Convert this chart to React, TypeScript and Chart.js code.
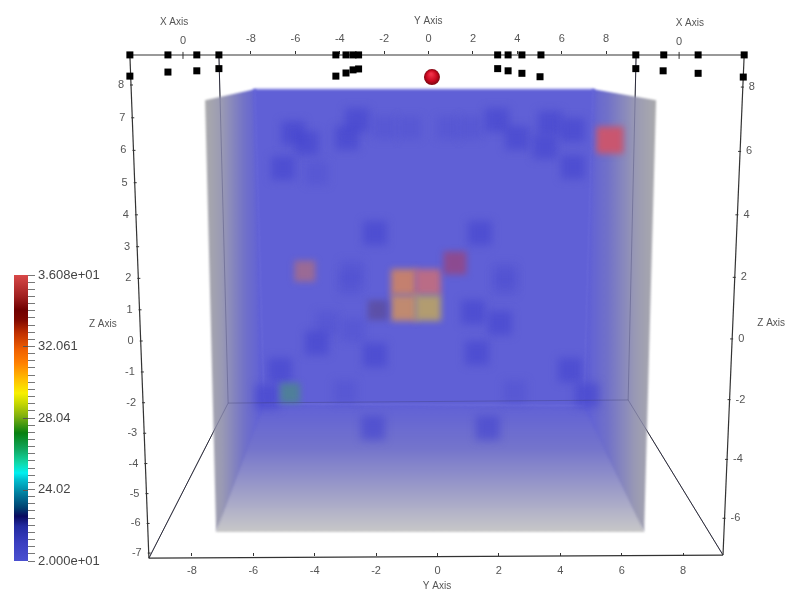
import React, { useEffect, useRef } from "react";
import { Chart, LinearScale, registerables } from "chart.js";

class PerspectiveScale extends LinearScale {
  static id = "perspective";
  static defaults = (LinearScale as any).defaults;
  getPixelForValue(v: number) {
    const a = (this.options as any).bow || 0;
    return super.getPixelForValue(v * (1 + a * v));
  }
}
// Registered ahead of the built-in plugins so that its filter also covers the filler's drawing.
const softDatasets = {
  id: "softDatasets",
  beforeDatasetDraw(chart: any, args: any) {
    const b = chart.data.datasets[args.index].blur;
    if (b) { chart.ctx.save(); chart.ctx.filter = `blur(${b}px)`; }
  },
  afterDatasetDraw(chart: any, args: any) {
    if (chart.data.datasets[args.index].blur) chart.ctx.restore();
  },
};
Chart.register(softDatasets as any, ...registerables, PerspectiveScale as any);

const FONT = "'Liberation Sans', Arial, sans-serif";

// Axis ticks
const yAxisTicks = [-8, -6, -4, -2, 0, 2, 4, 6, 8];
const zLeftTicks = [8, 7, 6, 5, 4, 3, 2, 1, 0, -1, -2, -3, -4, -5, -6, -7];
const zRightTicks = [8, 6, 4, 2, 0, -2, -4, -6];

// Marker squares on the top rail and just beneath it
const railX = [-10.02, -8.78, -7.84, -7.12, -3.31, -2.98, -2.75, -2.57, 1.96, 2.3, 2.75, 3.37, 6.46, 7.37, 8.49, 9.99];
const railY = [9.17, 9.17, 9.17, 9.17, 9.17, 9.17, 9.17, 9.17, 9.17, 9.17, 9.17, 9.17, 9.17, 9.17, 9.17, 9.17];
const lowerX = [-10.02, -8.78, -7.84, -7.12, -3.31, -2.98, -2.75, -2.57, 1.96, 2.3, 2.75, 3.34, 6.46, 7.35, 8.49, 9.96];
const lowerY = [8.49, 8.62, 8.66, 8.73, 8.49, 8.59, 8.69, 8.72, 8.73, 8.66, 8.58, 8.47, 8.73, 8.66, 8.58, 8.46];
const sphereX = [-0.18];
const sphereY = [8.46];

// Volume blobs
const deepX = [-4.71, -4.25, -5.03, -2.95, -2.62, 1.94, 2.59, 3.66, 3.5, 4.41, 4.41, -2.04, 1.38, 1.16, -3.93, -2.04, 1.29, 2.04, -5.13, 4.32, -5.55, 4.87, -2.1, 1.64];
const deepY = [6.67, 6.35, 5.54, 6.51, 7.08, 7.08, 6.51, 6.99, 6.22, 6.76, 5.58, 3.46, 3.46, 0.93, -0.06, -0.45, -0.38, 0.58, -0.93, -0.93, -1.79, -1.73, -2.79, -2.79];
const faintX = [-1.71, -0.9, 0.34, 1.06, -3.93, -2.85, -2.79, 2.2, 2.2, -3.6, -2.75, -3.01, 2.52];
const faintY = [6.83, 6.83, 6.83, 6.83, 5.38, 1.86, 2.21, 1.86, 2.12, 0.58, 0.35, -1.63, -1.63];
const hotX = [-1.09, -0.31, -1.09, -0.31, 5.62, 0.57, -4.32, -1.94, -4.8];
const hotY = [1.89, 1.89, 1.06, 1.06, 6.44, 2.5, 2.24, 0.99, -1.67];
const hotColors = ["#c4806f", "#ba6c86", "#c08a70", "#b29c70", "#c9566f", "#8c4a90", "#9a6a95", "#5c50a8", "#4f7f9a"];
const hotSides = [26, 26, 26, 26, 27, 23, 21, 20, 20];

// Volume faces [x, y] in plot units
const backFace = [[-6, 8.08], [5.12, 8.08], [4.82, -2.12], [-5.7, -2.06]];
const leftWall = [[-7.57, 7.72], [-5.91, 8.08], [-5.62, -1.99], [-7.21, -6.12]];
const rightWall = [[5.03, 8.08], [7.12, 7.72], [6.73, -6.12], [4.74, -2.05]];
const floorFace = [[-5.85, -1.99], [4.97, -2.05], [6.4, -5], [6.73, -6.12], [-7.21, -6.12], [-6.95, -5]];

// Box edges
const leftEdge = [[-10.02, 9.17], [-9.4, -6.96]];
const rightEdge = [[9.99, 9.17], [9.3, -6.86]];
const topEdge = [[-10.02, 9.17], [9.99, 9.17]];
const bottomEdge = [[-9.4, -6.96], [9.3, -6.86]];
const innerEdges = [
  [[-6.82, -1.99], [6.21, -1.89]],
  [[-9.4, -6.96], [-6.82, -1.99]],
  [[9.3, -6.86], [6.21, -1.89]],
  [[-7.12, 9.17], [-6.82, -1.99]],
  [[6.47, 9.17], [6.21, -1.89]],
];

// Free axis captions
const captions = [
  { text: "X Axis", x: -8.58, y: 10.23 },
  { text: "0", x: -8.29, y: 9.62 },
  { text: "Y Axis", x: -0.3, y: 10.25 },
  { text: "X Axis", x: 8.22, y: 10.2 },
  { text: "0", x: 7.87, y: 9.6 },
  { text: "Z Axis", x: -10.9, y: 0.54 },
  { text: "Z Axis", x: 10.87, y: 0.57 },
];

// Colour bar
const barMin = 20;
const barMax = 36.08;
const barMajor = [20, 24.02, 28.04, 32.061, 36.08];
const barLabels = ["2.000e+01", "24.02", "28.04", "32.061", "3.608e+01"];
const barStopValues = [20, 21.03, 21.96, 22.52, 22.99, 23.83, 24.58, 24.95, 25.52, 26.27, 27.2, 28.14, 28.88, 29.44, 30.19, 31.13, 31.87, 32.82, 33.56, 34.12, 34.86, 36.08];
const barStopColors = ["#4a50d0", "#3a3ec0", "#222aa0", "#0a0a60", "#004070", "#0080a0", "#00c0d0", "#00f0f0", "#10d8a8", "#10a860", "#088010", "#80b010", "#c8d800", "#f8f000", "#ffc000", "#ff8000", "#f06000", "#c03000", "#800800", "#700000", "#a02020", "#d84848"];

const pts = (xs: number[], ys: number[]) => xs.map((x, i) => ({ x, y: ys[i] }));
const poly = (p: number[][]) => p.map(([x, y]) => ({ x, y }));
const side2r = (s: number) => s / Math.SQRT2;

function MainChart() {
  const ref = useRef<HTMLCanvasElement>(null);
  useEffect(() => {
    const hGrad = (from: number, to: number) => (c: any) => {
      const s = c.chart.scales.x;
      if (!s || !c.chart.chartArea) return "#6060d6";
      const g = c.chart.ctx.createLinearGradient(s.getPixelForValue(from), 0, s.getPixelForValue(to), 0);
      g.addColorStop(0, "#aaaaac");
      g.addColorStop(0.3, "#9a9ab4");
      g.addColorStop(0.7, "#7272c8");
      g.addColorStop(1, "#6060d6");
      return g;
    };
    const vGrad = (c: any) => {
      const s = c.chart.scales.y;
      if (!s || !c.chart.chartArea) return "#6060d6";
      const g = c.chart.ctx.createLinearGradient(0, s.getPixelForValue(-1.99), 0, s.getPixelForValue(-6.12));
      g.addColorStop(0, "#6060d6");
      g.addColorStop(0.35, "#7474cc");
      g.addColorStop(0.7, "#a0a0c8");
      g.addColorStop(1, "#c8c8c8");
      return g;
    };
    const face = (p: number[][], bg: any, order: number, blur: number) => ({
      data: poly(p), showLine: true, fill: "shape", backgroundColor: bg, borderWidth: 0, pointRadius: 0, order, blur,
    });
    const edge = (p: number[][], color: string, width: number, order: number) => ({
      data: poly(p), showLine: true, fill: false, borderColor: color, borderWidth: width, pointRadius: 0, order, clip: false,
    });
    const squares = (d: any[], color: any, side: any, order: number, blur = 0) => ({
      data: d, showLine: false, pointStyle: "rect", backgroundColor: color, borderWidth: 0,
      pointRadius: Array.isArray(side) ? side.map(side2r) : side2r(side), pointHoverRadius: 0, order, clip: false, blur,
    });

    const axisExtras = {
      id: "axisExtras",
      afterDatasetsDraw(chart: any) {
        const { ctx, scales } = chart;
        ctx.save();
        ctx.fillStyle = "#555";
        ctx.strokeStyle = "#333";
        ctx.lineWidth = 1;
        ctx.textBaseline = "middle";
        ctx.font = `11px ${FONT}`;
        const along = (e: number[][], py: number) => {
          const x0 = scales.x.getPixelForValue(e[0][0]);
          const x1 = scales.x.getPixelForValue(e[1][0]);
          const y0 = scales.y.getPixelForValue(e[0][1]);
          const y1 = scales.y.getPixelForValue(e[1][1]);
          return x0 + ((py - y0) / (y1 - y0)) * (x1 - x0);
        };
        ctx.textAlign = "right";
        scales.zl.ticks.forEach((t: any) => {
          const py = scales.zl.getPixelForValue(t.value);
          const ax = along(leftEdge, py);
          ctx.fillText(String(t.value), ax - 7, py);
          ctx.beginPath(); ctx.moveTo(ax - 1, py); ctx.lineTo(ax + 2, py); ctx.stroke();
        });
        ctx.textAlign = "left";
        scales.zr.ticks.forEach((t: any) => {
          const py = scales.zr.getPixelForValue(t.value);
          const ax = along(rightEdge, py);
          ctx.fillText(String(t.value), ax + 6, py);
          ctx.beginPath(); ctx.moveTo(ax - 2, py); ctx.lineTo(ax + 1, py); ctx.stroke();
        });
        ctx.textAlign = "center";
        captions.forEach((c) => {
          ctx.font = `${c.text === "0" ? 11 : 10}px ${FONT}`;
          ctx.fillText(c.text, scales.x.getPixelForValue(c.x), scales.y.getPixelForValue(c.y));
        });
        const tx = [captions[1], captions[4]];
        tx.forEach((c) => {
          const px = scales.x.getPixelForValue(c.x);
          const py = scales.y.getPixelForValue(9.17);
          ctx.beginPath(); ctx.moveTo(px, py - 3); ctx.lineTo(px, py + 4); ctx.stroke();
        });
        ctx.restore();
      },
    };

    const hAxis = (position: string, min: number, max: number, size: number, extra: any) => ({
      type: "linear", axis: "x", position, min, max,
      afterBuildTicks: (s: any) => { s.ticks = yAxisTicks.map((value) => ({ value })); },
      afterFit: (s: any) => { s.height = size; },
      border: { display: false },
      ...extra,
    });

    const chart = new Chart(ref.current as any, {
      type: "scatter",
      data: {
        datasets: [
          ...innerEdges.map((e) => edge(e, "#222", 1, 20)),
          face(floorFace, vGrad, 17, 1),
          face(leftWall, hGrad(-7.57, -5.75), 16, 1),
          face(rightWall, hGrad(7.12, 4.9), 16, 1),
          face(backFace, "#6060d6", 15, 1.5),
          squares(pts(faintX, faintY), "rgba(72,72,208,0.34)", 23, 12, 4),
          squares(pts(deepX, deepY), "rgba(66,66,206,0.6)", 24, 11, 4),
          squares(pts(hotX, hotY), hotColors, hotSides, 10, 3),
          ...innerEdges.map((e) => edge(e, "rgba(60,60,110,0.35)", 1, 9)),
          edge(topEdge, "#777", 1.5, 5),
          edge(leftEdge, "#333", 1.2, 5),
          edge(rightEdge, "#333", 1.2, 5),
          edge(bottomEdge, "#333", 1.2, 5),
          squares(pts(railX, railY), "#000", 7, 2),
          squares(pts(lowerX, lowerY), "#000", 7, 2),
          {
            data: pts(sphereX, sphereY), showLine: false, pointRadius: 8, pointHoverRadius: 0, borderWidth: 0, order: 1, clip: false,
            backgroundColor: (c: any) => {
              const { x, y } = c.chart.scales;
              if (!x || !c.chart.chartArea) return "#c00020";
              const px = x.getPixelForValue(sphereX[0]);
              const py = y.getPixelForValue(sphereY[0]);
              const g = c.chart.ctx.createRadialGradient(px - 1, py - 3, 1, px, py, 8);
              g.addColorStop(0, "#f03048");
              g.addColorStop(0.6, "#c80820");
              g.addColorStop(1, "#7c0410");
              return g;
            },
          },
        ] as any,
      },
      options: {
        responsive: false,
        animation: false,
        events: [],
        layout: { padding: { left: 130, right: 51, top: 0, bottom: 0 } },
        plugins: { legend: { display: false }, tooltip: { enabled: false } },
        scales: {
          x: hAxis("bottom", -10.016, 9.984, 46, {
            grid: { drawOnChartArea: false, tickLength: -3, color: "#333" },
            ticks: { padding: 11, autoSkip: false, maxRotation: 0, color: "#555", font: { family: FONT, size: 11 } },
            title: { display: true, text: "Y Axis", color: "#555", font: { family: FONT, size: 10 }, padding: { top: 0, bottom: 10 } },
          }),
          x2: hAxis("top", -13.45, 14.21, 54, {
            grid: { drawOnChartArea: false, tickLength: 3, color: "#333" },
            ticks: { padding: 5, autoSkip: false, maxRotation: 0, color: "#555", font: { family: FONT, size: 11 } },
          }),
          y: { type: "linear", axis: "y", position: "left", display: false, min: -6.891, max: 9.199 },
          zl: {
            type: "perspective", axis: "y", position: "left", display: false, min: -6.915, max: 9.231, bow: 0.00366,
            afterBuildTicks: (s: any) => { s.ticks = zLeftTicks.map((value) => ({ value })); },
          },
          zr: {
            type: "perspective", axis: "y", position: "right", display: false, min: -7.1, max: 9.32, bow: 0.00372,
            afterBuildTicks: (s: any) => { s.ticks = zRightTicks.map((value) => ({ value })); },
          },
        } as any,
      },
      plugins: [axisExtras],
    } as any);
    return () => chart.destroy();
  }, []);
  return <canvas ref={ref} width={795} height={602} style={{ position: "absolute", left: 0, top: 0, filter: "blur(0.45px)" }} />;
}

function ColorBar() {
  const ref = useRef<HTMLCanvasElement>(null);
  useEffect(() => {
    const majorTicks = {
      id: "majorTicks",
      afterDraw(chart: any) {
        const { ctx, scales, chartArea } = chart;
        ctx.save();
        ctx.strokeStyle = "#555";
        barMajor.slice(1, 4).forEach((v) => {
          const y = Math.round(scales.y.getPixelForValue(v)) + 0.5;
          ctx.beginPath(); ctx.moveTo(chartArea.right - 5, y); ctx.lineTo(chartArea.right, y); ctx.stroke();
        });
        ctx.restore();
      },
    };
    const chart = new Chart(ref.current as any, {
      type: "bar",
      data: {
        labels: ["range"],
        datasets: [{
          data: [[barMin, barMax]],
          barPercentage: 1,
          categoryPercentage: 1,
          borderWidth: 0,
          backgroundColor: (c: any) => {
            const s = c.chart.scales.y;
            if (!s || !c.chart.chartArea) return "#6060d6";
            const g = c.chart.ctx.createLinearGradient(0, s.getPixelForValue(barMin), 0, s.getPixelForValue(barMax));
            barStopValues.forEach((v, i) => g.addColorStop((v - barMin) / (barMax - barMin), barStopColors[i]));
            return g;
          },
        }] as any,
      },
      options: {
        responsive: false,
        animation: false,
        events: [],
        layout: { padding: { left: 14, right: 0, top: 15, bottom: 19 } },
        plugins: { legend: { display: false }, tooltip: { enabled: false } },
        scales: {
          x: { display: false },
          y: {
            position: "right", min: barMin, max: barMax,
            border: { display: false },
            afterBuildTicks: (s: any) => {
              s.ticks = Array.from({ length: 41 }, (_, i) => ({ value: barMin + (i * (barMax - barMin)) / 40 }));
            },
            afterFit: (s: any) => { s.width = 92; },
            grid: { drawOnChartArea: false, tickLength: 7, color: "#777" },
            ticks: {
              autoSkip: false, padding: 3, color: "#444", font: { family: FONT, size: 13 },
              callback: (v: number) => {
                const i = barMajor.findIndex((m) => Math.abs(m - v) < 0.05);
                return i >= 0 ? barLabels[i] : "";
              },
            },
          },
        } as any,
      },
      plugins: [majorTicks],
    } as any);
    return () => chart.destroy();
  }, []);
  return <canvas ref={ref} width={120} height={320} style={{ position: "absolute", left: 0, top: 260, filter: "blur(0.45px)" }} />;
}

export default function App() {
  return (
    <div style={{ position: "fixed", left: 0, top: 0, width: 795, height: 602, background: "#fff", overflow: "hidden" }}>
      <MainChart />
      <ColorBar />
    </div>
  );
}
